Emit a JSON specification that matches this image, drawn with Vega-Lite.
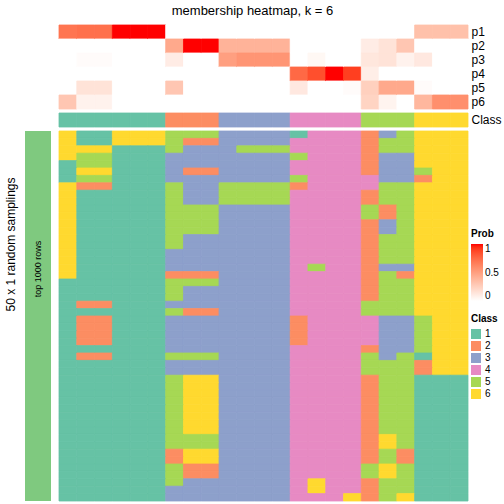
{
"$schema": "https://vega.github.io/schema/vega-lite/v6.json",
"padding": {"left": 4, "top": 4, "right": 0, "bottom": 0},
"title": {"text": "membership heatmap, k = 6", "fontSize": 13, "fontWeight": "normal", "offset": 7, "anchor": "middle", "color": "black"},
"config": {"view": {"stroke": null}, "font": "Liberation Sans"},
"columns": 2,
"align": "each",
"spacing": {"row": 2, "column": 7},
"resolve": {"scale": {"stroke": "independent"}},
"datasets": {
"top": [
{"c":0,"p":"p1","v":0.7},{"c":0,"p":"p2","v":0},{"c":0,"p":"p3","v":0},{"c":0,"p":"p4","v":0},{"c":0,"p":"p5","v":0},{"c":0,"p":"p6","v":0.3},
{"c":1,"p":"p1","v":0.72},{"c":1,"p":"p2","v":0},{"c":1,"p":"p3","v":0.02},{"c":1,"p":"p4","v":0},{"c":1,"p":"p5","v":0.15},{"c":1,"p":"p6","v":0.07},
{"c":2,"p":"p1","v":0.72},{"c":2,"p":"p2","v":0},{"c":2,"p":"p3","v":0.02},{"c":2,"p":"p4","v":0},{"c":2,"p":"p5","v":0.15},{"c":2,"p":"p6","v":0.07},
{"c":3,"p":"p1","v":1},{"c":3,"p":"p2","v":0},{"c":3,"p":"p3","v":0},{"c":3,"p":"p4","v":0},{"c":3,"p":"p5","v":0},{"c":3,"p":"p6","v":0},
{"c":4,"p":"p1","v":1},{"c":4,"p":"p2","v":0},{"c":4,"p":"p3","v":0},{"c":4,"p":"p4","v":0},{"c":4,"p":"p5","v":0},{"c":4,"p":"p6","v":0},
{"c":5,"p":"p1","v":1},{"c":5,"p":"p2","v":0},{"c":5,"p":"p3","v":0},{"c":5,"p":"p4","v":0},{"c":5,"p":"p5","v":0},{"c":5,"p":"p6","v":0},
{"c":6,"p":"p1","v":0},{"c":6,"p":"p2","v":0.45},{"c":6,"p":"p3","v":0.1},{"c":6,"p":"p4","v":0},{"c":6,"p":"p5","v":0.3},{"c":6,"p":"p6","v":0},
{"c":7,"p":"p1","v":0},{"c":7,"p":"p2","v":1},{"c":7,"p":"p3","v":0},{"c":7,"p":"p4","v":0},{"c":7,"p":"p5","v":0},{"c":7,"p":"p6","v":0},
{"c":8,"p":"p1","v":0},{"c":8,"p":"p2","v":1},{"c":8,"p":"p3","v":0},{"c":8,"p":"p4","v":0},{"c":8,"p":"p5","v":0},{"c":8,"p":"p6","v":0},
{"c":9,"p":"p1","v":0},{"c":9,"p":"p2","v":0.4},{"c":9,"p":"p3","v":0.5},{"c":9,"p":"p4","v":0},{"c":9,"p":"p5","v":0},{"c":9,"p":"p6","v":0},
{"c":10,"p":"p1","v":0},{"c":10,"p":"p2","v":0.4},{"c":10,"p":"p3","v":0.55},{"c":10,"p":"p4","v":0},{"c":10,"p":"p5","v":0},{"c":10,"p":"p6","v":0},
{"c":11,"p":"p1","v":0},{"c":11,"p":"p2","v":0.4},{"c":11,"p":"p3","v":0.55},{"c":11,"p":"p4","v":0},{"c":11,"p":"p5","v":0},{"c":11,"p":"p6","v":0},
{"c":12,"p":"p1","v":0},{"c":12,"p":"p2","v":0.4},{"c":12,"p":"p3","v":0.55},{"c":12,"p":"p4","v":0},{"c":12,"p":"p5","v":0},{"c":12,"p":"p6","v":0},
{"c":13,"p":"p1","v":0},{"c":13,"p":"p2","v":0},{"c":13,"p":"p3","v":0},{"c":13,"p":"p4","v":0.75},{"c":13,"p":"p5","v":0.12},{"c":13,"p":"p6","v":0},
{"c":14,"p":"p1","v":0},{"c":14,"p":"p2","v":0},{"c":14,"p":"p3","v":0.04},{"c":14,"p":"p4","v":0.85},{"c":14,"p":"p5","v":0},{"c":14,"p":"p6","v":0},
{"c":15,"p":"p1","v":0},{"c":15,"p":"p2","v":0},{"c":15,"p":"p3","v":0},{"c":15,"p":"p4","v":1},{"c":15,"p":"p5","v":0},{"c":15,"p":"p6","v":0},
{"c":16,"p":"p1","v":0},{"c":16,"p":"p2","v":0},{"c":16,"p":"p3","v":0},{"c":16,"p":"p4","v":0.9},{"c":16,"p":"p5","v":0.02},{"c":16,"p":"p6","v":0},
{"c":17,"p":"p1","v":0},{"c":17,"p":"p2","v":0.1},{"c":17,"p":"p3","v":0.13},{"c":17,"p":"p4","v":0.09},{"c":17,"p":"p5","v":0.25},{"c":17,"p":"p6","v":0.23},
{"c":18,"p":"p1","v":0},{"c":18,"p":"p2","v":0.15},{"c":18,"p":"p3","v":0.15},{"c":18,"p":"p4","v":0},{"c":18,"p":"p5","v":0.45},{"c":18,"p":"p6","v":0.06},
{"c":19,"p":"p1","v":0},{"c":19,"p":"p2","v":0.3},{"c":19,"p":"p3","v":0.07},{"c":19,"p":"p4","v":0},{"c":19,"p":"p5","v":0.45},{"c":19,"p":"p6","v":0},
{"c":20,"p":"p1","v":0.33},{"c":20,"p":"p2","v":0},{"c":20,"p":"p3","v":0.12},{"c":20,"p":"p4","v":0},{"c":20,"p":"p5","v":0.02},{"c":20,"p":"p6","v":0.38},
{"c":21,"p":"p1","v":0.33},{"c":21,"p":"p2","v":0},{"c":21,"p":"p3","v":0},{"c":21,"p":"p4","v":0},{"c":21,"p":"p5","v":0},{"c":21,"p":"p6","v":0.58},
{"c":22,"p":"p1","v":0.33},{"c":22,"p":"p2","v":0},{"c":22,"p":"p3","v":0},{"c":22,"p":"p4","v":0},{"c":22,"p":"p5","v":0},{"c":22,"p":"p6","v":0.58}
],
"cls": [
{"c":0,"k":1},{"c":1,"k":1},{"c":2,"k":1},{"c":3,"k":1},{"c":4,"k":1},{"c":5,"k":1},{"c":6,"k":2},{"c":7,"k":2},{"c":8,"k":2},{"c":9,"k":3},{"c":10,"k":3},{"c":11,"k":3},{"c":12,"k":3},{"c":13,"k":4},{"c":14,"k":4},{"c":15,"k":4},{"c":16,"k":4},{"c":17,"k":5},{"c":18,"k":5},{"c":19,"k":5},{"c":20,"k":6},{"c":21,"k":6},{"c":22,"k":6}
],
"body": [
{"r":0,"c":0,"k":6},{"r":0,"c":1,"k":1},{"r":0,"c":2,"k":1},{"r":0,"c":3,"k":6},{"r":0,"c":4,"k":6},{"r":0,"c":5,"k":6},{"r":0,"c":6,"k":5},{"r":0,"c":7,"k":5},{"r":0,"c":8,"k":5},{"r":0,"c":9,"k":3},{"r":0,"c":10,"k":3},{"r":0,"c":11,"k":3},{"r":0,"c":12,"k":3},{"r":0,"c":13,"k":1},{"r":0,"c":14,"k":4},{"r":0,"c":15,"k":4},{"r":0,"c":16,"k":4},{"r":0,"c":17,"k":2},{"r":0,"c":18,"k":3},{"r":0,"c":19,"k":5},{"r":0,"c":20,"k":6},{"r":0,"c":21,"k":6},{"r":0,"c":22,"k":6},
{"r":1,"c":0,"k":6},{"r":1,"c":1,"k":1},{"r":1,"c":2,"k":1},{"r":1,"c":3,"k":6},{"r":1,"c":4,"k":6},{"r":1,"c":5,"k":6},{"r":1,"c":6,"k":5},{"r":1,"c":7,"k":2},{"r":1,"c":8,"k":2},{"r":1,"c":9,"k":3},{"r":1,"c":10,"k":3},{"r":1,"c":11,"k":3},{"r":1,"c":12,"k":3},{"r":1,"c":13,"k":4},{"r":1,"c":14,"k":4},{"r":1,"c":15,"k":4},{"r":1,"c":16,"k":4},{"r":1,"c":17,"k":2},{"r":1,"c":18,"k":5},{"r":1,"c":19,"k":5},{"r":1,"c":20,"k":6},{"r":1,"c":21,"k":6},{"r":1,"c":22,"k":6},
{"r":2,"c":0,"k":6},{"r":2,"c":1,"k":6},{"r":2,"c":2,"k":6},{"r":2,"c":3,"k":1},{"r":2,"c":4,"k":1},{"r":2,"c":5,"k":1},{"r":2,"c":6,"k":5},{"r":2,"c":7,"k":3},{"r":2,"c":8,"k":3},{"r":2,"c":9,"k":3},{"r":2,"c":10,"k":5},{"r":2,"c":11,"k":5},{"r":2,"c":12,"k":5},{"r":2,"c":13,"k":4},{"r":2,"c":14,"k":4},{"r":2,"c":15,"k":4},{"r":2,"c":16,"k":4},{"r":2,"c":17,"k":2},{"r":2,"c":18,"k":5},{"r":2,"c":19,"k":5},{"r":2,"c":20,"k":6},{"r":2,"c":21,"k":6},{"r":2,"c":22,"k":6},
{"r":3,"c":0,"k":6},{"r":3,"c":1,"k":5},{"r":3,"c":2,"k":5},{"r":3,"c":3,"k":1},{"r":3,"c":4,"k":1},{"r":3,"c":5,"k":1},{"r":3,"c":6,"k":3},{"r":3,"c":7,"k":3},{"r":3,"c":8,"k":3},{"r":3,"c":9,"k":3},{"r":3,"c":10,"k":3},{"r":3,"c":11,"k":3},{"r":3,"c":12,"k":3},{"r":3,"c":13,"k":5},{"r":3,"c":14,"k":4},{"r":3,"c":15,"k":4},{"r":3,"c":16,"k":4},{"r":3,"c":17,"k":2},{"r":3,"c":18,"k":3},{"r":3,"c":19,"k":3},{"r":3,"c":20,"k":6},{"r":3,"c":21,"k":6},{"r":3,"c":22,"k":6},
{"r":4,"c":0,"k":1},{"r":4,"c":1,"k":5},{"r":4,"c":2,"k":5},{"r":4,"c":3,"k":1},{"r":4,"c":4,"k":1},{"r":4,"c":5,"k":1},{"r":4,"c":6,"k":3},{"r":4,"c":7,"k":3},{"r":4,"c":8,"k":3},{"r":4,"c":9,"k":3},{"r":4,"c":10,"k":3},{"r":4,"c":11,"k":3},{"r":4,"c":12,"k":3},{"r":4,"c":13,"k":4},{"r":4,"c":14,"k":4},{"r":4,"c":15,"k":4},{"r":4,"c":16,"k":4},{"r":4,"c":17,"k":2},{"r":4,"c":18,"k":3},{"r":4,"c":19,"k":3},{"r":4,"c":20,"k":6},{"r":4,"c":21,"k":6},{"r":4,"c":22,"k":6},
{"r":5,"c":0,"k":1},{"r":5,"c":1,"k":6},{"r":5,"c":2,"k":6},{"r":5,"c":3,"k":1},{"r":5,"c":4,"k":1},{"r":5,"c":5,"k":1},{"r":5,"c":6,"k":3},{"r":5,"c":7,"k":2},{"r":5,"c":8,"k":2},{"r":5,"c":9,"k":3},{"r":5,"c":10,"k":3},{"r":5,"c":11,"k":3},{"r":5,"c":12,"k":3},{"r":5,"c":13,"k":4},{"r":5,"c":14,"k":4},{"r":5,"c":15,"k":4},{"r":5,"c":16,"k":4},{"r":5,"c":17,"k":2},{"r":5,"c":18,"k":3},{"r":5,"c":19,"k":3},{"r":5,"c":20,"k":5},{"r":5,"c":21,"k":6},{"r":5,"c":22,"k":6},
{"r":6,"c":0,"k":1},{"r":6,"c":1,"k":5},{"r":6,"c":2,"k":5},{"r":6,"c":3,"k":1},{"r":6,"c":4,"k":1},{"r":6,"c":5,"k":1},{"r":6,"c":6,"k":3},{"r":6,"c":7,"k":3},{"r":6,"c":8,"k":3},{"r":6,"c":9,"k":3},{"r":6,"c":10,"k":3},{"r":6,"c":11,"k":3},{"r":6,"c":12,"k":3},{"r":6,"c":13,"k":5},{"r":6,"c":14,"k":4},{"r":6,"c":15,"k":4},{"r":6,"c":16,"k":4},{"r":6,"c":17,"k":4},{"r":6,"c":18,"k":3},{"r":6,"c":19,"k":3},{"r":6,"c":20,"k":2},{"r":6,"c":21,"k":6},{"r":6,"c":22,"k":6},
{"r":7,"c":0,"k":6},{"r":7,"c":1,"k":2},{"r":7,"c":2,"k":2},{"r":7,"c":3,"k":1},{"r":7,"c":4,"k":1},{"r":7,"c":5,"k":1},{"r":7,"c":6,"k":5},{"r":7,"c":7,"k":3},{"r":7,"c":8,"k":3},{"r":7,"c":9,"k":5},{"r":7,"c":10,"k":5},{"r":7,"c":11,"k":5},{"r":7,"c":12,"k":5},{"r":7,"c":13,"k":2},{"r":7,"c":14,"k":4},{"r":7,"c":15,"k":4},{"r":7,"c":16,"k":4},{"r":7,"c":17,"k":4},{"r":7,"c":18,"k":5},{"r":7,"c":19,"k":5},{"r":7,"c":20,"k":6},{"r":7,"c":21,"k":6},{"r":7,"c":22,"k":6},
{"r":8,"c":0,"k":6},{"r":8,"c":1,"k":1},{"r":8,"c":2,"k":1},{"r":8,"c":3,"k":1},{"r":8,"c":4,"k":1},{"r":8,"c":5,"k":1},{"r":8,"c":6,"k":5},{"r":8,"c":7,"k":3},{"r":8,"c":8,"k":3},{"r":8,"c":9,"k":5},{"r":8,"c":10,"k":5},{"r":8,"c":11,"k":5},{"r":8,"c":12,"k":5},{"r":8,"c":13,"k":4},{"r":8,"c":14,"k":4},{"r":8,"c":15,"k":4},{"r":8,"c":16,"k":4},{"r":8,"c":17,"k":2},{"r":8,"c":18,"k":5},{"r":8,"c":19,"k":5},{"r":8,"c":20,"k":6},{"r":8,"c":21,"k":6},{"r":8,"c":22,"k":6},
{"r":9,"c":0,"k":6},{"r":9,"c":1,"k":1},{"r":9,"c":2,"k":1},{"r":9,"c":3,"k":1},{"r":9,"c":4,"k":1},{"r":9,"c":5,"k":1},{"r":9,"c":6,"k":5},{"r":9,"c":7,"k":3},{"r":9,"c":8,"k":3},{"r":9,"c":9,"k":5},{"r":9,"c":10,"k":5},{"r":9,"c":11,"k":5},{"r":9,"c":12,"k":5},{"r":9,"c":13,"k":4},{"r":9,"c":14,"k":4},{"r":9,"c":15,"k":4},{"r":9,"c":16,"k":4},{"r":9,"c":17,"k":2},{"r":9,"c":18,"k":5},{"r":9,"c":19,"k":5},{"r":9,"c":20,"k":6},{"r":9,"c":21,"k":6},{"r":9,"c":22,"k":6},
{"r":10,"c":0,"k":6},{"r":10,"c":1,"k":1},{"r":10,"c":2,"k":1},{"r":10,"c":3,"k":1},{"r":10,"c":4,"k":1},{"r":10,"c":5,"k":1},{"r":10,"c":6,"k":5},{"r":10,"c":7,"k":5},{"r":10,"c":8,"k":5},{"r":10,"c":9,"k":3},{"r":10,"c":10,"k":3},{"r":10,"c":11,"k":3},{"r":10,"c":12,"k":3},{"r":10,"c":13,"k":4},{"r":10,"c":14,"k":4},{"r":10,"c":15,"k":4},{"r":10,"c":16,"k":4},{"r":10,"c":17,"k":5},{"r":10,"c":18,"k":2},{"r":10,"c":19,"k":5},{"r":10,"c":20,"k":6},{"r":10,"c":21,"k":6},{"r":10,"c":22,"k":6},
{"r":11,"c":0,"k":6},{"r":11,"c":1,"k":1},{"r":11,"c":2,"k":1},{"r":11,"c":3,"k":1},{"r":11,"c":4,"k":1},{"r":11,"c":5,"k":1},{"r":11,"c":6,"k":5},{"r":11,"c":7,"k":5},{"r":11,"c":8,"k":5},{"r":11,"c":9,"k":3},{"r":11,"c":10,"k":3},{"r":11,"c":11,"k":3},{"r":11,"c":12,"k":3},{"r":11,"c":13,"k":4},{"r":11,"c":14,"k":4},{"r":11,"c":15,"k":4},{"r":11,"c":16,"k":4},{"r":11,"c":17,"k":5},{"r":11,"c":18,"k":2},{"r":11,"c":19,"k":5},{"r":11,"c":20,"k":6},{"r":11,"c":21,"k":6},{"r":11,"c":22,"k":6},
{"r":12,"c":0,"k":6},{"r":12,"c":1,"k":1},{"r":12,"c":2,"k":1},{"r":12,"c":3,"k":1},{"r":12,"c":4,"k":1},{"r":12,"c":5,"k":1},{"r":12,"c":6,"k":5},{"r":12,"c":7,"k":5},{"r":12,"c":8,"k":5},{"r":12,"c":9,"k":3},{"r":12,"c":10,"k":3},{"r":12,"c":11,"k":3},{"r":12,"c":12,"k":3},{"r":12,"c":13,"k":4},{"r":12,"c":14,"k":4},{"r":12,"c":15,"k":4},{"r":12,"c":16,"k":4},{"r":12,"c":17,"k":2},{"r":12,"c":18,"k":3},{"r":12,"c":19,"k":5},{"r":12,"c":20,"k":6},{"r":12,"c":21,"k":6},{"r":12,"c":22,"k":6},
{"r":13,"c":0,"k":6},{"r":13,"c":1,"k":1},{"r":13,"c":2,"k":1},{"r":13,"c":3,"k":1},{"r":13,"c":4,"k":1},{"r":13,"c":5,"k":1},{"r":13,"c":6,"k":5},{"r":13,"c":7,"k":5},{"r":13,"c":8,"k":5},{"r":13,"c":9,"k":3},{"r":13,"c":10,"k":3},{"r":13,"c":11,"k":3},{"r":13,"c":12,"k":3},{"r":13,"c":13,"k":4},{"r":13,"c":14,"k":4},{"r":13,"c":15,"k":4},{"r":13,"c":16,"k":4},{"r":13,"c":17,"k":2},{"r":13,"c":18,"k":3},{"r":13,"c":19,"k":5},{"r":13,"c":20,"k":6},{"r":13,"c":21,"k":6},{"r":13,"c":22,"k":6},
{"r":14,"c":0,"k":6},{"r":14,"c":1,"k":1},{"r":14,"c":2,"k":1},{"r":14,"c":3,"k":1},{"r":14,"c":4,"k":1},{"r":14,"c":5,"k":1},{"r":14,"c":6,"k":5},{"r":14,"c":7,"k":3},{"r":14,"c":8,"k":3},{"r":14,"c":9,"k":3},{"r":14,"c":10,"k":3},{"r":14,"c":11,"k":3},{"r":14,"c":12,"k":3},{"r":14,"c":13,"k":4},{"r":14,"c":14,"k":4},{"r":14,"c":15,"k":4},{"r":14,"c":16,"k":4},{"r":14,"c":17,"k":2},{"r":14,"c":18,"k":5},{"r":14,"c":19,"k":5},{"r":14,"c":20,"k":6},{"r":14,"c":21,"k":6},{"r":14,"c":22,"k":6},
{"r":15,"c":0,"k":6},{"r":15,"c":1,"k":1},{"r":15,"c":2,"k":1},{"r":15,"c":3,"k":1},{"r":15,"c":4,"k":1},{"r":15,"c":5,"k":1},{"r":15,"c":6,"k":5},{"r":15,"c":7,"k":3},{"r":15,"c":8,"k":3},{"r":15,"c":9,"k":3},{"r":15,"c":10,"k":3},{"r":15,"c":11,"k":3},{"r":15,"c":12,"k":3},{"r":15,"c":13,"k":4},{"r":15,"c":14,"k":4},{"r":15,"c":15,"k":4},{"r":15,"c":16,"k":4},{"r":15,"c":17,"k":2},{"r":15,"c":18,"k":5},{"r":15,"c":19,"k":5},{"r":15,"c":20,"k":6},{"r":15,"c":21,"k":6},{"r":15,"c":22,"k":6},
{"r":16,"c":0,"k":6},{"r":16,"c":1,"k":1},{"r":16,"c":2,"k":1},{"r":16,"c":3,"k":1},{"r":16,"c":4,"k":1},{"r":16,"c":5,"k":1},{"r":16,"c":6,"k":3},{"r":16,"c":7,"k":3},{"r":16,"c":8,"k":3},{"r":16,"c":9,"k":3},{"r":16,"c":10,"k":3},{"r":16,"c":11,"k":3},{"r":16,"c":12,"k":3},{"r":16,"c":13,"k":4},{"r":16,"c":14,"k":4},{"r":16,"c":15,"k":4},{"r":16,"c":16,"k":4},{"r":16,"c":17,"k":2},{"r":16,"c":18,"k":5},{"r":16,"c":19,"k":5},{"r":16,"c":20,"k":6},{"r":16,"c":21,"k":6},{"r":16,"c":22,"k":6},
{"r":17,"c":0,"k":6},{"r":17,"c":1,"k":1},{"r":17,"c":2,"k":1},{"r":17,"c":3,"k":1},{"r":17,"c":4,"k":1},{"r":17,"c":5,"k":1},{"r":17,"c":6,"k":3},{"r":17,"c":7,"k":3},{"r":17,"c":8,"k":3},{"r":17,"c":9,"k":3},{"r":17,"c":10,"k":3},{"r":17,"c":11,"k":3},{"r":17,"c":12,"k":3},{"r":17,"c":13,"k":4},{"r":17,"c":14,"k":4},{"r":17,"c":15,"k":4},{"r":17,"c":16,"k":4},{"r":17,"c":17,"k":2},{"r":17,"c":18,"k":5},{"r":17,"c":19,"k":5},{"r":17,"c":20,"k":6},{"r":17,"c":21,"k":6},{"r":17,"c":22,"k":6},
{"r":18,"c":0,"k":6},{"r":18,"c":1,"k":1},{"r":18,"c":2,"k":1},{"r":18,"c":3,"k":1},{"r":18,"c":4,"k":1},{"r":18,"c":5,"k":1},{"r":18,"c":6,"k":3},{"r":18,"c":7,"k":3},{"r":18,"c":8,"k":3},{"r":18,"c":9,"k":3},{"r":18,"c":10,"k":3},{"r":18,"c":11,"k":3},{"r":18,"c":12,"k":3},{"r":18,"c":13,"k":4},{"r":18,"c":14,"k":5},{"r":18,"c":15,"k":4},{"r":18,"c":16,"k":4},{"r":18,"c":17,"k":2},{"r":18,"c":18,"k":3},{"r":18,"c":19,"k":3},{"r":18,"c":20,"k":6},{"r":18,"c":21,"k":6},{"r":18,"c":22,"k":6},
{"r":19,"c":0,"k":6},{"r":19,"c":1,"k":1},{"r":19,"c":2,"k":1},{"r":19,"c":3,"k":1},{"r":19,"c":4,"k":1},{"r":19,"c":5,"k":1},{"r":19,"c":6,"k":2},{"r":19,"c":7,"k":2},{"r":19,"c":8,"k":2},{"r":19,"c":9,"k":3},{"r":19,"c":10,"k":3},{"r":19,"c":11,"k":3},{"r":19,"c":12,"k":3},{"r":19,"c":13,"k":4},{"r":19,"c":14,"k":4},{"r":19,"c":15,"k":4},{"r":19,"c":16,"k":4},{"r":19,"c":17,"k":2},{"r":19,"c":18,"k":5},{"r":19,"c":19,"k":2},{"r":19,"c":20,"k":6},{"r":19,"c":21,"k":6},{"r":19,"c":22,"k":6},
{"r":20,"c":0,"k":1},{"r":20,"c":1,"k":1},{"r":20,"c":2,"k":1},{"r":20,"c":3,"k":1},{"r":20,"c":4,"k":1},{"r":20,"c":5,"k":1},{"r":20,"c":6,"k":5},{"r":20,"c":7,"k":5},{"r":20,"c":8,"k":5},{"r":20,"c":9,"k":3},{"r":20,"c":10,"k":3},{"r":20,"c":11,"k":3},{"r":20,"c":12,"k":3},{"r":20,"c":13,"k":4},{"r":20,"c":14,"k":4},{"r":20,"c":15,"k":4},{"r":20,"c":16,"k":4},{"r":20,"c":17,"k":2},{"r":20,"c":18,"k":5},{"r":20,"c":19,"k":5},{"r":20,"c":20,"k":6},{"r":20,"c":21,"k":6},{"r":20,"c":22,"k":6},
{"r":21,"c":0,"k":1},{"r":21,"c":1,"k":1},{"r":21,"c":2,"k":1},{"r":21,"c":3,"k":1},{"r":21,"c":4,"k":1},{"r":21,"c":5,"k":1},{"r":21,"c":6,"k":5},{"r":21,"c":7,"k":3},{"r":21,"c":8,"k":3},{"r":21,"c":9,"k":3},{"r":21,"c":10,"k":3},{"r":21,"c":11,"k":3},{"r":21,"c":12,"k":3},{"r":21,"c":13,"k":4},{"r":21,"c":14,"k":4},{"r":21,"c":15,"k":4},{"r":21,"c":16,"k":4},{"r":21,"c":17,"k":2},{"r":21,"c":18,"k":5},{"r":21,"c":19,"k":5},{"r":21,"c":20,"k":6},{"r":21,"c":21,"k":6},{"r":21,"c":22,"k":6},
{"r":22,"c":0,"k":1},{"r":22,"c":1,"k":1},{"r":22,"c":2,"k":1},{"r":22,"c":3,"k":1},{"r":22,"c":4,"k":1},{"r":22,"c":5,"k":1},{"r":22,"c":6,"k":5},{"r":22,"c":7,"k":3},{"r":22,"c":8,"k":3},{"r":22,"c":9,"k":3},{"r":22,"c":10,"k":3},{"r":22,"c":11,"k":3},{"r":22,"c":12,"k":3},{"r":22,"c":13,"k":4},{"r":22,"c":14,"k":4},{"r":22,"c":15,"k":4},{"r":22,"c":16,"k":4},{"r":22,"c":17,"k":2},{"r":22,"c":18,"k":5},{"r":22,"c":19,"k":5},{"r":22,"c":20,"k":6},{"r":22,"c":21,"k":6},{"r":22,"c":22,"k":6},
{"r":23,"c":0,"k":1},{"r":23,"c":1,"k":2},{"r":23,"c":2,"k":2},{"r":23,"c":3,"k":1},{"r":23,"c":4,"k":1},{"r":23,"c":5,"k":1},{"r":23,"c":6,"k":3},{"r":23,"c":7,"k":3},{"r":23,"c":8,"k":3},{"r":23,"c":9,"k":3},{"r":23,"c":10,"k":3},{"r":23,"c":11,"k":3},{"r":23,"c":12,"k":3},{"r":23,"c":13,"k":4},{"r":23,"c":14,"k":4},{"r":23,"c":15,"k":4},{"r":23,"c":16,"k":4},{"r":23,"c":17,"k":5},{"r":23,"c":18,"k":5},{"r":23,"c":19,"k":5},{"r":23,"c":20,"k":6},{"r":23,"c":21,"k":6},{"r":23,"c":22,"k":6},
{"r":24,"c":0,"k":1},{"r":24,"c":1,"k":1},{"r":24,"c":2,"k":1},{"r":24,"c":3,"k":1},{"r":24,"c":4,"k":1},{"r":24,"c":5,"k":1},{"r":24,"c":6,"k":5},{"r":24,"c":7,"k":2},{"r":24,"c":8,"k":2},{"r":24,"c":9,"k":3},{"r":24,"c":10,"k":3},{"r":24,"c":11,"k":3},{"r":24,"c":12,"k":3},{"r":24,"c":13,"k":4},{"r":24,"c":14,"k":4},{"r":24,"c":15,"k":4},{"r":24,"c":16,"k":4},{"r":24,"c":17,"k":5},{"r":24,"c":18,"k":5},{"r":24,"c":19,"k":5},{"r":24,"c":20,"k":6},{"r":24,"c":21,"k":6},{"r":24,"c":22,"k":6},
{"r":25,"c":0,"k":1},{"r":25,"c":1,"k":2},{"r":25,"c":2,"k":2},{"r":25,"c":3,"k":1},{"r":25,"c":4,"k":1},{"r":25,"c":5,"k":1},{"r":25,"c":6,"k":3},{"r":25,"c":7,"k":3},{"r":25,"c":8,"k":3},{"r":25,"c":9,"k":3},{"r":25,"c":10,"k":3},{"r":25,"c":11,"k":3},{"r":25,"c":12,"k":3},{"r":25,"c":13,"k":2},{"r":25,"c":14,"k":4},{"r":25,"c":15,"k":4},{"r":25,"c":16,"k":4},{"r":25,"c":17,"k":4},{"r":25,"c":18,"k":3},{"r":25,"c":19,"k":3},{"r":25,"c":20,"k":5},{"r":25,"c":21,"k":6},{"r":25,"c":22,"k":6},
{"r":26,"c":0,"k":1},{"r":26,"c":1,"k":2},{"r":26,"c":2,"k":2},{"r":26,"c":3,"k":1},{"r":26,"c":4,"k":1},{"r":26,"c":5,"k":1},{"r":26,"c":6,"k":3},{"r":26,"c":7,"k":3},{"r":26,"c":8,"k":3},{"r":26,"c":9,"k":3},{"r":26,"c":10,"k":3},{"r":26,"c":11,"k":3},{"r":26,"c":12,"k":3},{"r":26,"c":13,"k":2},{"r":26,"c":14,"k":4},{"r":26,"c":15,"k":4},{"r":26,"c":16,"k":4},{"r":26,"c":17,"k":4},{"r":26,"c":18,"k":3},{"r":26,"c":19,"k":3},{"r":26,"c":20,"k":5},{"r":26,"c":21,"k":6},{"r":26,"c":22,"k":6},
{"r":27,"c":0,"k":1},{"r":27,"c":1,"k":2},{"r":27,"c":2,"k":2},{"r":27,"c":3,"k":1},{"r":27,"c":4,"k":1},{"r":27,"c":5,"k":1},{"r":27,"c":6,"k":3},{"r":27,"c":7,"k":3},{"r":27,"c":8,"k":3},{"r":27,"c":9,"k":3},{"r":27,"c":10,"k":3},{"r":27,"c":11,"k":3},{"r":27,"c":12,"k":3},{"r":27,"c":13,"k":2},{"r":27,"c":14,"k":4},{"r":27,"c":15,"k":4},{"r":27,"c":16,"k":4},{"r":27,"c":17,"k":4},{"r":27,"c":18,"k":3},{"r":27,"c":19,"k":3},{"r":27,"c":20,"k":5},{"r":27,"c":21,"k":6},{"r":27,"c":22,"k":6},
{"r":28,"c":0,"k":1},{"r":28,"c":1,"k":2},{"r":28,"c":2,"k":2},{"r":28,"c":3,"k":1},{"r":28,"c":4,"k":1},{"r":28,"c":5,"k":1},{"r":28,"c":6,"k":3},{"r":28,"c":7,"k":3},{"r":28,"c":8,"k":3},{"r":28,"c":9,"k":3},{"r":28,"c":10,"k":3},{"r":28,"c":11,"k":3},{"r":28,"c":12,"k":3},{"r":28,"c":13,"k":2},{"r":28,"c":14,"k":4},{"r":28,"c":15,"k":4},{"r":28,"c":16,"k":4},{"r":28,"c":17,"k":4},{"r":28,"c":18,"k":3},{"r":28,"c":19,"k":3},{"r":28,"c":20,"k":5},{"r":28,"c":21,"k":6},{"r":28,"c":22,"k":6},
{"r":29,"c":0,"k":1},{"r":29,"c":1,"k":1},{"r":29,"c":2,"k":1},{"r":29,"c":3,"k":1},{"r":29,"c":4,"k":1},{"r":29,"c":5,"k":1},{"r":29,"c":6,"k":3},{"r":29,"c":7,"k":3},{"r":29,"c":8,"k":3},{"r":29,"c":9,"k":3},{"r":29,"c":10,"k":3},{"r":29,"c":11,"k":3},{"r":29,"c":12,"k":3},{"r":29,"c":13,"k":4},{"r":29,"c":14,"k":4},{"r":29,"c":15,"k":4},{"r":29,"c":16,"k":4},{"r":29,"c":17,"k":2},{"r":29,"c":18,"k":3},{"r":29,"c":19,"k":3},{"r":29,"c":20,"k":5},{"r":29,"c":21,"k":6},{"r":29,"c":22,"k":6},
{"r":30,"c":0,"k":1},{"r":30,"c":1,"k":2},{"r":30,"c":2,"k":2},{"r":30,"c":3,"k":1},{"r":30,"c":4,"k":1},{"r":30,"c":5,"k":1},{"r":30,"c":6,"k":5},{"r":30,"c":7,"k":5},{"r":30,"c":8,"k":5},{"r":30,"c":9,"k":3},{"r":30,"c":10,"k":3},{"r":30,"c":11,"k":3},{"r":30,"c":12,"k":3},{"r":30,"c":13,"k":4},{"r":30,"c":14,"k":4},{"r":30,"c":15,"k":4},{"r":30,"c":16,"k":4},{"r":30,"c":17,"k":5},{"r":30,"c":18,"k":3},{"r":30,"c":19,"k":5},{"r":30,"c":20,"k":1},{"r":30,"c":21,"k":6},{"r":30,"c":22,"k":6},
{"r":31,"c":0,"k":1},{"r":31,"c":1,"k":1},{"r":31,"c":2,"k":1},{"r":31,"c":3,"k":1},{"r":31,"c":4,"k":1},{"r":31,"c":5,"k":1},{"r":31,"c":6,"k":3},{"r":31,"c":7,"k":3},{"r":31,"c":8,"k":3},{"r":31,"c":9,"k":3},{"r":31,"c":10,"k":3},{"r":31,"c":11,"k":3},{"r":31,"c":12,"k":3},{"r":31,"c":13,"k":4},{"r":31,"c":14,"k":4},{"r":31,"c":15,"k":4},{"r":31,"c":16,"k":4},{"r":31,"c":17,"k":5},{"r":31,"c":18,"k":5},{"r":31,"c":19,"k":5},{"r":31,"c":20,"k":2},{"r":31,"c":21,"k":6},{"r":31,"c":22,"k":6},
{"r":32,"c":0,"k":1},{"r":32,"c":1,"k":1},{"r":32,"c":2,"k":1},{"r":32,"c":3,"k":1},{"r":32,"c":4,"k":1},{"r":32,"c":5,"k":1},{"r":32,"c":6,"k":3},{"r":32,"c":7,"k":3},{"r":32,"c":8,"k":3},{"r":32,"c":9,"k":3},{"r":32,"c":10,"k":3},{"r":32,"c":11,"k":3},{"r":32,"c":12,"k":3},{"r":32,"c":13,"k":4},{"r":32,"c":14,"k":4},{"r":32,"c":15,"k":4},{"r":32,"c":16,"k":4},{"r":32,"c":17,"k":5},{"r":32,"c":18,"k":5},{"r":32,"c":19,"k":5},{"r":32,"c":20,"k":2},{"r":32,"c":21,"k":6},{"r":32,"c":22,"k":6},
{"r":33,"c":0,"k":1},{"r":33,"c":1,"k":1},{"r":33,"c":2,"k":1},{"r":33,"c":3,"k":1},{"r":33,"c":4,"k":1},{"r":33,"c":5,"k":1},{"r":33,"c":6,"k":5},{"r":33,"c":7,"k":6},{"r":33,"c":8,"k":6},{"r":33,"c":9,"k":3},{"r":33,"c":10,"k":3},{"r":33,"c":11,"k":3},{"r":33,"c":12,"k":3},{"r":33,"c":13,"k":4},{"r":33,"c":14,"k":4},{"r":33,"c":15,"k":4},{"r":33,"c":16,"k":4},{"r":33,"c":17,"k":2},{"r":33,"c":18,"k":5},{"r":33,"c":19,"k":5},{"r":33,"c":20,"k":1},{"r":33,"c":21,"k":1},{"r":33,"c":22,"k":1},
{"r":34,"c":0,"k":1},{"r":34,"c":1,"k":1},{"r":34,"c":2,"k":1},{"r":34,"c":3,"k":1},{"r":34,"c":4,"k":1},{"r":34,"c":5,"k":1},{"r":34,"c":6,"k":5},{"r":34,"c":7,"k":6},{"r":34,"c":8,"k":6},{"r":34,"c":9,"k":3},{"r":34,"c":10,"k":3},{"r":34,"c":11,"k":3},{"r":34,"c":12,"k":3},{"r":34,"c":13,"k":4},{"r":34,"c":14,"k":4},{"r":34,"c":15,"k":4},{"r":34,"c":16,"k":4},{"r":34,"c":17,"k":2},{"r":34,"c":18,"k":5},{"r":34,"c":19,"k":5},{"r":34,"c":20,"k":1},{"r":34,"c":21,"k":1},{"r":34,"c":22,"k":1},
{"r":35,"c":0,"k":1},{"r":35,"c":1,"k":1},{"r":35,"c":2,"k":1},{"r":35,"c":3,"k":1},{"r":35,"c":4,"k":1},{"r":35,"c":5,"k":1},{"r":35,"c":6,"k":5},{"r":35,"c":7,"k":6},{"r":35,"c":8,"k":6},{"r":35,"c":9,"k":3},{"r":35,"c":10,"k":3},{"r":35,"c":11,"k":3},{"r":35,"c":12,"k":3},{"r":35,"c":13,"k":4},{"r":35,"c":14,"k":4},{"r":35,"c":15,"k":4},{"r":35,"c":16,"k":4},{"r":35,"c":17,"k":2},{"r":35,"c":18,"k":5},{"r":35,"c":19,"k":5},{"r":35,"c":20,"k":1},{"r":35,"c":21,"k":1},{"r":35,"c":22,"k":1},
{"r":36,"c":0,"k":1},{"r":36,"c":1,"k":1},{"r":36,"c":2,"k":1},{"r":36,"c":3,"k":1},{"r":36,"c":4,"k":1},{"r":36,"c":5,"k":1},{"r":36,"c":6,"k":5},{"r":36,"c":7,"k":6},{"r":36,"c":8,"k":6},{"r":36,"c":9,"k":3},{"r":36,"c":10,"k":3},{"r":36,"c":11,"k":3},{"r":36,"c":12,"k":3},{"r":36,"c":13,"k":4},{"r":36,"c":14,"k":4},{"r":36,"c":15,"k":4},{"r":36,"c":16,"k":4},{"r":36,"c":17,"k":2},{"r":36,"c":18,"k":5},{"r":36,"c":19,"k":5},{"r":36,"c":20,"k":1},{"r":36,"c":21,"k":1},{"r":36,"c":22,"k":1},
{"r":37,"c":0,"k":1},{"r":37,"c":1,"k":1},{"r":37,"c":2,"k":1},{"r":37,"c":3,"k":1},{"r":37,"c":4,"k":1},{"r":37,"c":5,"k":1},{"r":37,"c":6,"k":5},{"r":37,"c":7,"k":6},{"r":37,"c":8,"k":6},{"r":37,"c":9,"k":3},{"r":37,"c":10,"k":3},{"r":37,"c":11,"k":3},{"r":37,"c":12,"k":3},{"r":37,"c":13,"k":4},{"r":37,"c":14,"k":4},{"r":37,"c":15,"k":4},{"r":37,"c":16,"k":4},{"r":37,"c":17,"k":2},{"r":37,"c":18,"k":5},{"r":37,"c":19,"k":5},{"r":37,"c":20,"k":1},{"r":37,"c":21,"k":1},{"r":37,"c":22,"k":1},
{"r":38,"c":0,"k":1},{"r":38,"c":1,"k":1},{"r":38,"c":2,"k":1},{"r":38,"c":3,"k":1},{"r":38,"c":4,"k":1},{"r":38,"c":5,"k":1},{"r":38,"c":6,"k":5},{"r":38,"c":7,"k":6},{"r":38,"c":8,"k":6},{"r":38,"c":9,"k":3},{"r":38,"c":10,"k":3},{"r":38,"c":11,"k":3},{"r":38,"c":12,"k":3},{"r":38,"c":13,"k":4},{"r":38,"c":14,"k":4},{"r":38,"c":15,"k":4},{"r":38,"c":16,"k":4},{"r":38,"c":17,"k":2},{"r":38,"c":18,"k":5},{"r":38,"c":19,"k":5},{"r":38,"c":20,"k":1},{"r":38,"c":21,"k":1},{"r":38,"c":22,"k":1},
{"r":39,"c":0,"k":1},{"r":39,"c":1,"k":1},{"r":39,"c":2,"k":1},{"r":39,"c":3,"k":1},{"r":39,"c":4,"k":1},{"r":39,"c":5,"k":1},{"r":39,"c":6,"k":5},{"r":39,"c":7,"k":6},{"r":39,"c":8,"k":6},{"r":39,"c":9,"k":3},{"r":39,"c":10,"k":3},{"r":39,"c":11,"k":3},{"r":39,"c":12,"k":3},{"r":39,"c":13,"k":4},{"r":39,"c":14,"k":4},{"r":39,"c":15,"k":4},{"r":39,"c":16,"k":4},{"r":39,"c":17,"k":2},{"r":39,"c":18,"k":5},{"r":39,"c":19,"k":5},{"r":39,"c":20,"k":1},{"r":39,"c":21,"k":1},{"r":39,"c":22,"k":1},
{"r":40,"c":0,"k":1},{"r":40,"c":1,"k":1},{"r":40,"c":2,"k":1},{"r":40,"c":3,"k":1},{"r":40,"c":4,"k":1},{"r":40,"c":5,"k":1},{"r":40,"c":6,"k":5},{"r":40,"c":7,"k":6},{"r":40,"c":8,"k":6},{"r":40,"c":9,"k":3},{"r":40,"c":10,"k":3},{"r":40,"c":11,"k":3},{"r":40,"c":12,"k":3},{"r":40,"c":13,"k":4},{"r":40,"c":14,"k":4},{"r":40,"c":15,"k":4},{"r":40,"c":16,"k":4},{"r":40,"c":17,"k":2},{"r":40,"c":18,"k":5},{"r":40,"c":19,"k":5},{"r":40,"c":20,"k":1},{"r":40,"c":21,"k":1},{"r":40,"c":22,"k":1},
{"r":41,"c":0,"k":1},{"r":41,"c":1,"k":1},{"r":41,"c":2,"k":1},{"r":41,"c":3,"k":1},{"r":41,"c":4,"k":1},{"r":41,"c":5,"k":1},{"r":41,"c":6,"k":5},{"r":41,"c":7,"k":5},{"r":41,"c":8,"k":5},{"r":41,"c":9,"k":3},{"r":41,"c":10,"k":3},{"r":41,"c":11,"k":3},{"r":41,"c":12,"k":3},{"r":41,"c":13,"k":4},{"r":41,"c":14,"k":4},{"r":41,"c":15,"k":4},{"r":41,"c":16,"k":4},{"r":41,"c":17,"k":2},{"r":41,"c":18,"k":6},{"r":41,"c":19,"k":5},{"r":41,"c":20,"k":1},{"r":41,"c":21,"k":1},{"r":41,"c":22,"k":1},
{"r":42,"c":0,"k":1},{"r":42,"c":1,"k":1},{"r":42,"c":2,"k":1},{"r":42,"c":3,"k":1},{"r":42,"c":4,"k":1},{"r":42,"c":5,"k":1},{"r":42,"c":6,"k":5},{"r":42,"c":7,"k":5},{"r":42,"c":8,"k":5},{"r":42,"c":9,"k":3},{"r":42,"c":10,"k":3},{"r":42,"c":11,"k":3},{"r":42,"c":12,"k":3},{"r":42,"c":13,"k":4},{"r":42,"c":14,"k":4},{"r":42,"c":15,"k":4},{"r":42,"c":16,"k":4},{"r":42,"c":17,"k":2},{"r":42,"c":18,"k":6},{"r":42,"c":19,"k":5},{"r":42,"c":20,"k":1},{"r":42,"c":21,"k":1},{"r":42,"c":22,"k":1},
{"r":43,"c":0,"k":1},{"r":43,"c":1,"k":1},{"r":43,"c":2,"k":1},{"r":43,"c":3,"k":1},{"r":43,"c":4,"k":1},{"r":43,"c":5,"k":1},{"r":43,"c":6,"k":2},{"r":43,"c":7,"k":6},{"r":43,"c":8,"k":6},{"r":43,"c":9,"k":3},{"r":43,"c":10,"k":3},{"r":43,"c":11,"k":3},{"r":43,"c":12,"k":3},{"r":43,"c":13,"k":4},{"r":43,"c":14,"k":4},{"r":43,"c":15,"k":4},{"r":43,"c":16,"k":4},{"r":43,"c":17,"k":2},{"r":43,"c":18,"k":5},{"r":43,"c":19,"k":2},{"r":43,"c":20,"k":1},{"r":43,"c":21,"k":1},{"r":43,"c":22,"k":1},
{"r":44,"c":0,"k":1},{"r":44,"c":1,"k":1},{"r":44,"c":2,"k":1},{"r":44,"c":3,"k":1},{"r":44,"c":4,"k":1},{"r":44,"c":5,"k":1},{"r":44,"c":6,"k":2},{"r":44,"c":7,"k":6},{"r":44,"c":8,"k":6},{"r":44,"c":9,"k":3},{"r":44,"c":10,"k":3},{"r":44,"c":11,"k":3},{"r":44,"c":12,"k":3},{"r":44,"c":13,"k":4},{"r":44,"c":14,"k":4},{"r":44,"c":15,"k":4},{"r":44,"c":16,"k":4},{"r":44,"c":17,"k":2},{"r":44,"c":18,"k":5},{"r":44,"c":19,"k":2},{"r":44,"c":20,"k":1},{"r":44,"c":21,"k":1},{"r":44,"c":22,"k":1},
{"r":45,"c":0,"k":1},{"r":45,"c":1,"k":1},{"r":45,"c":2,"k":1},{"r":45,"c":3,"k":1},{"r":45,"c":4,"k":1},{"r":45,"c":5,"k":1},{"r":45,"c":6,"k":5},{"r":45,"c":7,"k":2},{"r":45,"c":8,"k":2},{"r":45,"c":9,"k":3},{"r":45,"c":10,"k":3},{"r":45,"c":11,"k":3},{"r":45,"c":12,"k":3},{"r":45,"c":13,"k":4},{"r":45,"c":14,"k":4},{"r":45,"c":15,"k":4},{"r":45,"c":16,"k":4},{"r":45,"c":17,"k":5},{"r":45,"c":18,"k":6},{"r":45,"c":19,"k":5},{"r":45,"c":20,"k":1},{"r":45,"c":21,"k":1},{"r":45,"c":22,"k":1},
{"r":46,"c":0,"k":1},{"r":46,"c":1,"k":1},{"r":46,"c":2,"k":1},{"r":46,"c":3,"k":1},{"r":46,"c":4,"k":1},{"r":46,"c":5,"k":1},{"r":46,"c":6,"k":5},{"r":46,"c":7,"k":2},{"r":46,"c":8,"k":2},{"r":46,"c":9,"k":3},{"r":46,"c":10,"k":3},{"r":46,"c":11,"k":3},{"r":46,"c":12,"k":3},{"r":46,"c":13,"k":4},{"r":46,"c":14,"k":4},{"r":46,"c":15,"k":4},{"r":46,"c":16,"k":4},{"r":46,"c":17,"k":5},{"r":46,"c":18,"k":6},{"r":46,"c":19,"k":5},{"r":46,"c":20,"k":1},{"r":46,"c":21,"k":1},{"r":46,"c":22,"k":1},
{"r":47,"c":0,"k":1},{"r":47,"c":1,"k":1},{"r":47,"c":2,"k":1},{"r":47,"c":3,"k":1},{"r":47,"c":4,"k":1},{"r":47,"c":5,"k":1},{"r":47,"c":6,"k":5},{"r":47,"c":7,"k":3},{"r":47,"c":8,"k":3},{"r":47,"c":9,"k":3},{"r":47,"c":10,"k":3},{"r":47,"c":11,"k":3},{"r":47,"c":12,"k":3},{"r":47,"c":13,"k":4},{"r":47,"c":14,"k":6},{"r":47,"c":15,"k":4},{"r":47,"c":16,"k":4},{"r":47,"c":17,"k":2},{"r":47,"c":18,"k":5},{"r":47,"c":19,"k":5},{"r":47,"c":20,"k":1},{"r":47,"c":21,"k":1},{"r":47,"c":22,"k":1},
{"r":48,"c":0,"k":1},{"r":48,"c":1,"k":1},{"r":48,"c":2,"k":1},{"r":48,"c":3,"k":1},{"r":48,"c":4,"k":1},{"r":48,"c":5,"k":1},{"r":48,"c":6,"k":3},{"r":48,"c":7,"k":3},{"r":48,"c":8,"k":3},{"r":48,"c":9,"k":3},{"r":48,"c":10,"k":3},{"r":48,"c":11,"k":3},{"r":48,"c":12,"k":3},{"r":48,"c":13,"k":4},{"r":48,"c":14,"k":6},{"r":48,"c":15,"k":4},{"r":48,"c":16,"k":4},{"r":48,"c":17,"k":2},{"r":48,"c":18,"k":5},{"r":48,"c":19,"k":5},{"r":48,"c":20,"k":1},{"r":48,"c":21,"k":1},{"r":48,"c":22,"k":1},
{"r":49,"c":0,"k":1},{"r":49,"c":1,"k":1},{"r":49,"c":2,"k":1},{"r":49,"c":3,"k":1},{"r":49,"c":4,"k":1},{"r":49,"c":5,"k":1},{"r":49,"c":6,"k":3},{"r":49,"c":7,"k":3},{"r":49,"c":8,"k":3},{"r":49,"c":9,"k":3},{"r":49,"c":10,"k":3},{"r":49,"c":11,"k":3},{"r":49,"c":12,"k":3},{"r":49,"c":13,"k":4},{"r":49,"c":14,"k":4},{"r":49,"c":15,"k":4},{"r":49,"c":16,"k":6},{"r":49,"c":17,"k":2},{"r":49,"c":18,"k":5},{"r":49,"c":19,"k":6},{"r":49,"c":20,"k":1},{"r":49,"c":21,"k":1},{"r":49,"c":22,"k":1}
]
},
"concat": [
{"width": 26, "height": 84, "data": {"values": []}, "mark": "rect", "encoding": {}},
{"width": 409, "height": 84, "data": {"name": "top"}, "mark": {"type": "rect", "strokeWidth": 0.8},
 "encoding": {
  "x": {"field": "c", "type": "ordinal", "axis": null, "scale": {"paddingInner": 0, "paddingOuter": 0}},
  "y": {"field": "p", "type": "ordinal", "scale": {"paddingInner": 0, "paddingOuter": 0}, "axis": {"orient": "right", "title": null, "domain": false, "ticks": false, "labelPadding": 3, "labelFontSize": 12, "labelColor": "black"}},
  "color": {"field": "v", "type": "quantitative", "scale": {"domain": [0, 1], "range": ["#ffffff", "#ff0000"], "interpolate": "lab"},
   "legend": {"title": "Prob", "orient": "none", "legendX": 446, "legendY": 204, "direction": "vertical", "gradientLength": 57, "gradientThickness": 12, "values": [0, 0.5, 1], "format": "~g", "titleFontSize": 10, "labelFontSize": 10, "titlePadding": 5, "labelColor": "black", "titleColor": "black"}},
  "stroke": {"field": "v", "type": "quantitative", "scale": {"domain": [0, 1], "range": ["#ffffff", "#ff0000"], "interpolate": "lab"}, "legend": null}
 }},
{"width": 26, "height": 14, "data": {"values": []}, "mark": "rect", "encoding": {}},
{"width": 409, "height": 14, "data": {"name": "cls"}, "mark": {"type": "rect", "strokeWidth": 0.8},
 "encoding": {
  "x": {"field": "c", "type": "ordinal", "axis": null, "scale": {"paddingInner": 0, "paddingOuter": 0}},
  "y": {"datum": "Class", "type": "nominal", "scale": {"paddingInner": 0, "paddingOuter": 0}, "axis": {"orient": "right", "title": null, "domain": false, "ticks": false, "labelPadding": 3, "labelFontSize": 12, "labelColor": "black"}},
  "fill": {"field": "k", "type": "nominal", "scale": {"domain": [1, 2, 3, 4, 5, 6], "range": ["#66C2A5", "#FC8D62", "#8DA0CB", "#E78AC3", "#A6D854", "#FFD92F"]},
   "legend": {"title": "Class", "orient": "none", "legendX": 446, "legendY": 289, "symbolType": "square", "symbolSize": 100, "symbolStrokeWidth": 0, "symbolOpacity": 1, "titleFontSize": 10, "labelFontSize": 10, "titlePadding": 5, "rowPadding": 2, "labelColor": "black", "titleColor": "black"}},
  "stroke": {"field": "k", "type": "nominal", "scale": {"domain": [1, 2, 3, 4, 5, 6], "range": ["#66C2A5", "#FC8D62", "#8DA0CB", "#E78AC3", "#A6D854", "#FFD92F"]}, "legend": null}
 }},
{"width": 26, "height": 370, "data": {"values": [{"g": "top 1000 rows"}]},
 "layer": [
  {"mark": {"type": "rect", "color": "#7FC97F"},
   "encoding": {"y": {"field": "g", "type": "nominal", "scale": {"paddingInner": 0, "paddingOuter": 0},
    "axis": {"labels": false, "ticks": false, "domain": false, "title": "50 x 1 random samplings", "titleFontSize": 12, "titleFontWeight": "normal", "titlePadding": 8, "titleY": 113, "titleColor": "black"}}}},
  {"mark": {"type": "text", "angle": 270, "fontSize": 9, "dx": 47, "color": "black"},
   "encoding": {"y": {"field": "g", "type": "nominal"}, "text": {"field": "g"}}}
 ]},
{"width": 409, "height": 370, "data": {"name": "body"}, "mark": {"type": "rect", "strokeWidth": 0.8},
 "encoding": {
  "x": {"field": "c", "type": "ordinal", "axis": null, "scale": {"paddingInner": 0, "paddingOuter": 0}},
  "y": {"field": "r", "type": "ordinal", "axis": null, "scale": {"paddingInner": 0, "paddingOuter": 0}},
  "fill": {"field": "k", "type": "nominal", "scale": {"domain": [1, 2, 3, 4, 5, 6], "range": ["#66C2A5", "#FC8D62", "#8DA0CB", "#E78AC3", "#A6D854", "#FFD92F"]},
   "legend": {"title": "Class", "orient": "none", "legendX": 446, "legendY": 289, "symbolType": "square", "symbolSize": 100, "symbolStrokeWidth": 0, "symbolOpacity": 1, "titleFontSize": 10, "labelFontSize": 10, "titlePadding": 5, "rowPadding": 2, "labelColor": "black", "titleColor": "black"}},
  "stroke": {"field": "k", "type": "nominal", "scale": {"domain": [1, 2, 3, 4, 5, 6], "range": ["#66C2A5", "#FC8D62", "#8DA0CB", "#E78AC3", "#A6D854", "#FFD92F"]}, "legend": null}
 }}
]
}
